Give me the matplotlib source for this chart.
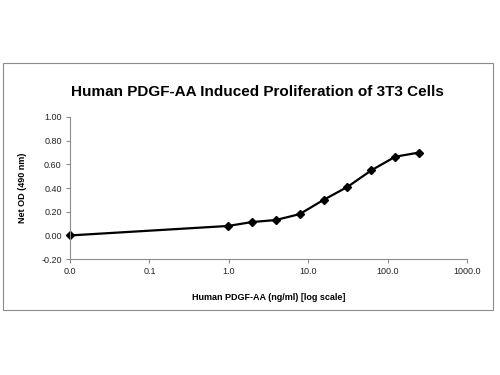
import matplotlib.pyplot as plt
from matplotlib.patches import Rectangle
from matplotlib.ticker import FixedLocator, NullLocator

plt.rcParams['font.family'] = ['Liberation Sans', 'DejaVu Sans']

# dose (ng/ml) and net OD at 490 nm
dose = [0.01, 0.98, 1.95, 3.9, 7.8, 15.6, 31.25, 62.5, 125, 250]
net_od = [0.00, 0.08, 0.113, 0.13, 0.18, 0.30, 0.41, 0.55, 0.665, 0.70]

x_ticks = [0.01, 0.1, 1, 10, 100, 1000]
x_labels = ['0.0', '0.1', '1.0', '10.0', '100.0', '1000.0']
y_ticks = [-0.2, 0.0, 0.2, 0.4, 0.6, 0.8, 1.0]

fig = plt.figure(figsize=(5, 3.75), dpi=100)
ax = fig.add_axes([0.14, 0.309, 0.794, 0.379])

# outer frame like the excel chart area
fig.patches.append(Rectangle((0.006, 1 - 310 / 375), 0.98, 247 / 375,
                             transform=fig.transFigure, fill=False,
                             edgecolor='#8c8c8c', linewidth=0.8))

ax.plot(dose, net_od, color='black', linewidth=1.6, marker='D',
        markersize=4.5, markerfacecolor='black', markeredgecolor='black',
        clip_on=False)

ax.set_xscale('log')
ax.set_xlim(0.01, 1000)
ax.set_ylim(-0.2, 1.0)
ax.xaxis.set_major_locator(FixedLocator(x_ticks))
ax.xaxis.set_minor_locator(NullLocator())
ax.set_xticklabels(x_labels)
ax.set_yticks(y_ticks)
ax.set_yticklabels([f'{v:.2f}' for v in y_ticks])

for side in ['top', 'right']:
    ax.spines[side].set_visible(False)
for side in ['left', 'bottom']:
    ax.spines[side].set_color('#8c8c8c')
    ax.spines[side].set_linewidth(0.8)
ax.tick_params(axis='both', length=3, width=0.8, color='#8c8c8c',
               labelsize=6.5, labelcolor='#222222', pad=3)

fig.text(0.515, 1 - 92 / 375, 'Human PDGF-AA Induced Proliferation of 3T3 Cells',
         fontsize=11, fontweight='bold', ha='center', va='center')
ax.set_xlabel('Human PDGF-AA (ng/ml) [log scale]', fontsize=6.5,
              fontweight='bold', labelpad=12)
ax.set_ylabel('Net OD (490 nm)', fontsize=6.5, fontweight='bold', labelpad=10)

fig.savefig('out.png', dpi=100)
